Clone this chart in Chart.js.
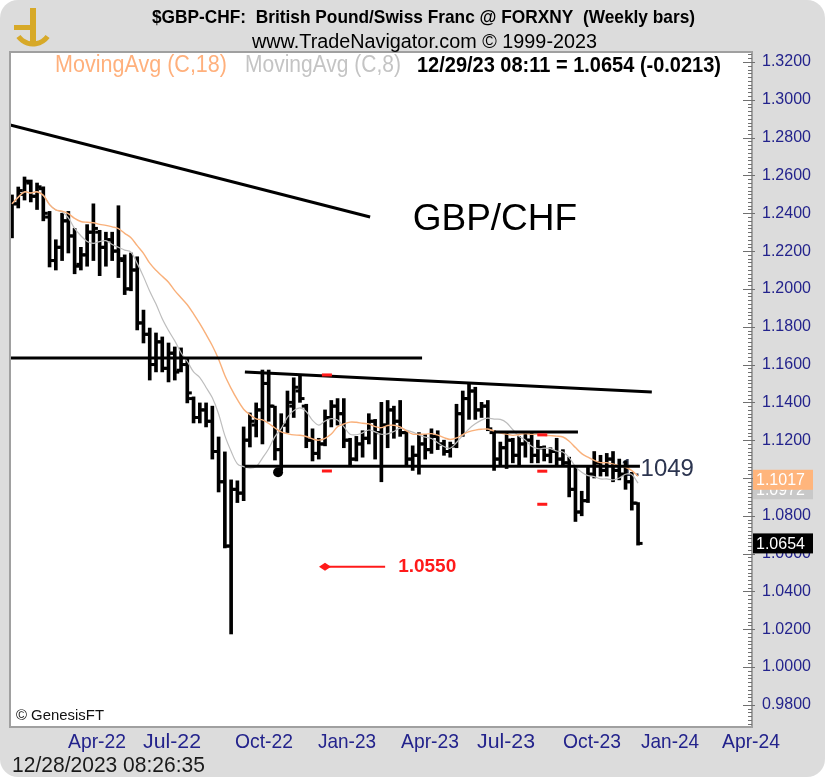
<!DOCTYPE html>
<html>
<head>
<meta charset="utf-8">
<script src="https://cdn.jsdelivr.net/npm/chart.js@4.4.1/dist/chart.umd.min.js"></script>
<style>
    html, body { margin: 0; padding: 0; background: #fff; }
    #wrap { width: 828px; height: 779px; position: relative; }
</style>
</head>
<body>
<div id="wrap"><canvas id="gbpChfChart"></canvas></div>
<script>
// weekly bars, one per week (index 0 = late Jan 2022, last = week of 12/29/23)
const opens = [
    1.235, 1.245, 1.250, 1.256, 1.249, 1.253, 1.238, 1.215, 1.222, 1.236,
    1.228, 1.213, 1.218, 1.230, 1.230, 1.222, 1.226, 1.220, 1.215, 1.200,
    1.210, 1.182, 1.176, 1.160, 1.172, 1.158, 1.166, 1.157, 1.160, 1.142,
    1.132, 1.136, 1.130, 1.114, 1.098, 1.064, 1.094, 1.092, 1.120, 1.128,
    1.136, 1.150, 1.138, 1.115, 1.128, 1.138, 1.146, 1.138, 1.120, 1.113,
    1.118, 1.132, 1.138, 1.134, 1.120, 1.110, 1.118, 1.121, 1.130, 1.124,
    1.128, 1.136, 1.130, 1.124, 1.110, 1.112, 1.118, 1.115, 1.122, 1.118,
    1.114, 1.117, 1.134, 1.142, 1.146, 1.136, 1.138, 1.124, 1.110, 1.116,
    1.120, 1.112, 1.118, 1.120, 1.112, 1.116, 1.112, 1.114, 1.110, 1.108,
    1.094, 1.082, 1.088, 1.102, 1.108, 1.104, 1.110, 1.104, 1.102, 1.098,
    1.0867
];
const highs = [
    1.2497, 1.2539, 1.2592, 1.2576, 1.2560, 1.2540, 1.2410, 1.2260, 1.2400, 1.2410,
    1.2320, 1.2220, 1.2340, 1.2450, 1.2310, 1.2300, 1.2300, 1.2440, 1.2180, 1.2190,
    1.2170, 1.1888, 1.1793, 1.1767, 1.1746, 1.1714, 1.1693, 1.1688, 1.1630, 1.1429,
    1.1397, 1.1397, 1.1380, 1.1217, 1.1138, 1.0990, 1.0985, 1.1270, 1.1344, 1.1397,
    1.1571, 1.1571, 1.1380, 1.1340, 1.1460, 1.1530, 1.1540, 1.1390, 1.1260, 1.1210,
    1.1360, 1.1410, 1.1420, 1.1420, 1.1210, 1.1220, 1.1250, 1.1340, 1.1310, 1.1400,
    1.1410, 1.1380, 1.1410, 1.1250, 1.1170, 1.1240, 1.1230, 1.1260, 1.1250, 1.1200,
    1.1190, 1.1390, 1.1460, 1.1500, 1.1480, 1.1400, 1.1410, 1.1250, 1.1190, 1.1240,
    1.1210, 1.1220, 1.1240, 1.1240, 1.1200, 1.1170, 1.1160, 1.1210, 1.1150, 1.1110,
    1.1060, 1.0930, 1.1060, 1.1140, 1.1120, 1.1130, 1.1140, 1.1100, 1.1090, 1.1030,
    1.0870
];
const lows = [
    1.2270, 1.2428, 1.2470, 1.2460, 1.2420, 1.2360, 1.2116, 1.2100, 1.2150, 1.2190,
    1.2080, 1.2100, 1.2120, 1.2150, 1.2070, 1.2120, 1.2150, 1.2060, 1.1970, 1.1990,
    1.1783, 1.1714, 1.1518, 1.1561, 1.1561, 1.1508, 1.1518, 1.1561, 1.1397, 1.1291,
    1.1291, 1.1270, 1.1100, 1.0926, 1.0630, 1.0175, 1.0870, 1.0880, 1.1164, 1.1217,
    1.1180, 1.1300, 1.1095, 1.1040, 1.1240, 1.1320, 1.1400, 1.1160, 1.1090, 1.1100,
    1.1170, 1.1270, 1.1280, 1.1160, 1.1060, 1.1090, 1.1110, 1.1180, 1.1100, 1.0980,
    1.1160, 1.1210, 1.1220, 1.1070, 1.1040, 1.1020, 1.1100, 1.1130, 1.1150, 1.1120,
    1.1110, 1.1160, 1.1220, 1.1310, 1.1310, 1.1320, 1.1250, 1.1040, 1.1070, 1.1050,
    1.1080, 1.1070, 1.1110, 1.1080, 1.1080, 1.1090, 1.1080, 1.1070, 1.1060, 1.0900,
    1.0770, 1.0800, 1.0870, 1.1000, 1.1010, 1.1010, 1.0980, 1.0990, 1.0940, 1.0830,
    1.0645
];
const closes = [
    1.245, 1.252, 1.257, 1.249, 1.254, 1.240, 1.215, 1.222, 1.236, 1.228,
    1.212, 1.218, 1.230, 1.232, 1.222, 1.226, 1.220, 1.216, 1.200, 1.210,
    1.182, 1.176, 1.160, 1.172, 1.158, 1.166, 1.156, 1.160, 1.145, 1.132,
    1.136, 1.130, 1.114, 1.098, 1.064, 1.094, 1.092, 1.120, 1.130, 1.136,
    1.150, 1.138, 1.115, 1.128, 1.140, 1.148, 1.142, 1.120, 1.113, 1.118,
    1.132, 1.138, 1.134, 1.120, 1.110, 1.118, 1.121, 1.130, 1.124, 1.128,
    1.136, 1.130, 1.124, 1.110, 1.112, 1.118, 1.115, 1.122, 1.118, 1.114,
    1.117, 1.134, 1.142, 1.146, 1.136, 1.138, 1.126, 1.110, 1.116, 1.120,
    1.112, 1.118, 1.120, 1.112, 1.116, 1.112, 1.114, 1.110, 1.108, 1.094,
    1.082, 1.088, 1.102, 1.108, 1.104, 1.110, 1.104, 1.102, 1.098, 1.0867,
    1.0654
];

const xTickLabels = ['Apr-22', 'Jul-22', 'Oct-22', 'Jan-23', 'Apr-23', 'Jul-23', 'Oct-23', 'Jan-24', 'Apr-24'];
const xTickWeeks = [13.58, 25.56, 40.25, 53.51, 66.77, 78.91, 92.65, 105.11, 118.04];
const yTickValues = [1.32, 1.30, 1.28, 1.26, 1.24, 1.22, 1.20, 1.18, 1.16, 1.14, 1.12, 1.10, 1.08, 1.06, 1.04, 1.02, 1.00, 0.98];

const lastQuote = { stamp: '12/29/23 08:11', close: 1.0654, change: -0.0213 };
const maReadout = { slow: 1.1017, fast: 1.0972 };

// hand-drawn studies, in (week index, price)
const trendLines = [
    { x1: -0.3, y1: 1.2867, x2: 57.2, y2: 1.2380 },
    { x1: -0.3, y1: 1.1635, x2: 65.5, y2: 1.1635 },
    { x1: 37.2, y1: 1.1561, x2: 102.2, y2: 1.1455 },
    { x1: 37.2, y1: 1.1062, x2: 100.3, y2: 1.1062 },
    { x1: 77.0, y1: 1.1243, x2: 90.4, y2: 1.1243 }
];
const redMarks = [
    { x: 50.3, y: 1.1545 }, { x: 50.3, y: 1.1037 },
    { x: 84.7, y: 1.1228 }, { x: 84.7, y: 1.1036 }, { x: 84.7, y: 1.0861 }
];
const pivotDot = { x: 42.5, y: 1.1030 };
const targetArrow = { x1: 50.0, x2: 59.6, y: 1.0530, label: '1.0550' };
const supportLabel = { x: 97.2, y: 1.1045, text: '1.1049' };
const pairLabel = { x: 64.0, y: 1.2364, text: 'GBP/CHF' };

const SANS = "'Liberation Sans', Arial, sans-serif";
const NAVY = '#23238c';

function movingAvg(src, n) {
    return src.map((_, i) => {
        const win = src.slice(Math.max(0, i - n + 1), i + 1);
        return win.reduce((a, b) => a + b, 0) / win.length;
    });
}
const ma18 = movingAvg(closes, 18);
const ma8 = movingAvg(closes, 8);

// condensed text: font size sets the height, horizontal squeeze sets the width
function narrowText(ctx, text, left, width, y, size, weight, color) {
    ctx.save();
    ctx.font = `${weight} ${size}px ${SANS}`;
    const w = ctx.measureText(text).width;
    ctx.fillStyle = color;
    ctx.textAlign = 'left';
    ctx.textBaseline = 'middle';
    ctx.translate(left, y);
    ctx.scale(width / w, 1);
    ctx.fillText(text, 0, 0);
    ctx.restore();
}

const tradeNavFrame = {
    id: 'tradeNavFrame',
    beforeDraw(chart) {
        const { ctx, width, height, chartArea: a } = chart;
        ctx.save();
        ctx.fillStyle = '#fff';
        ctx.fillRect(0, 0, width, height);
        ctx.fillStyle = '#dcdcdc';
        ctx.beginPath();
        ctx.roundRect(0, 0, width - 3, height - 2, 18);
        ctx.fill();
        ctx.fillStyle = '#fff';
        ctx.fillRect(a.left, a.top, a.right - a.left, a.bottom - a.top);
        ctx.restore();
    },
    beforeDatasetsDraw(chart) {
        const { ctx, scales: { x, y } } = chart;
        ctx.save();
        ctx.font = `24px ${SANS}`;
        ctx.fillStyle = '#2c3550';
        ctx.textBaseline = 'middle';
        ctx.fillText(supportLabel.text, x.getPixelForValue(supportLabel.x), y.getPixelForValue(supportLabel.y));
        ctx.font = `37px ${SANS}`;
        ctx.fillStyle = '#000';
        ctx.fillText(pairLabel.text, x.getPixelForValue(pairLabel.x), y.getPixelForValue(pairLabel.y));
        ctx.restore();
    },
    afterDatasetsDraw(chart) {
        const { ctx, chartArea: a, scales: { x, y } } = chart;
        ctx.save();
        ctx.beginPath();
        ctx.rect(a.left, a.top, a.right - a.left, a.bottom - a.top);
        ctx.clip();

        ctx.strokeStyle = '#000';
        ctx.lineWidth = 3;
        trendLines.forEach(t => {
            ctx.beginPath();
            ctx.moveTo(x.getPixelForValue(t.x1), y.getPixelForValue(t.y1));
            ctx.lineTo(x.getPixelForValue(t.x2), y.getPixelForValue(t.y2));
            ctx.stroke();
        });

        ctx.fillStyle = '#ff1a1a';
        redMarks.forEach(m => {
            ctx.fillRect(x.getPixelForValue(m.x) - 5, y.getPixelForValue(m.y) - 1.5, 10, 3);
        });

        ctx.fillStyle = '#000';
        ctx.beginPath();
        ctx.arc(x.getPixelForValue(pivotDot.x), y.getPixelForValue(pivotDot.y), 5, 0, Math.PI * 2);
        ctx.fill();

        // target arrow
        const ay = y.getPixelForValue(targetArrow.y);
        const ax1 = x.getPixelForValue(targetArrow.x1);
        const ax2 = x.getPixelForValue(targetArrow.x2);
        ctx.strokeStyle = '#ff1a1a';
        ctx.fillStyle = '#ff1a1a';
        ctx.lineWidth = 2;
        ctx.beginPath();
        ctx.moveTo(ax1, ay);
        ctx.lineTo(ax2, ay);
        ctx.stroke();
        ctx.beginPath();
        ctx.moveTo(ax1 - 6, ay);
        ctx.lineTo(ax1, ay - 4);
        ctx.lineTo(ax1 + 6, ay);
        ctx.lineTo(ax1, ay + 4);
        ctx.closePath();
        ctx.fill();
        ctx.font = `bold 19px ${SANS}`;
        ctx.textBaseline = 'middle';
        ctx.fillText(targetArrow.label, ax2 + 13, ay);
        ctx.restore();
    },
    afterDraw(chart) {
        const { ctx, chartArea: a, scales: { x, y } } = chart;
        ctx.save();

        // plot frame and price ticks on the right edge
        ctx.strokeStyle = '#a0a0a0';
        ctx.lineWidth = 2;
        ctx.strokeRect(a.left, a.top, a.right - a.left, a.bottom - a.top);
        ctx.strokeStyle = '#707070';
        ctx.lineWidth = 1;
        for (let v = 0.97; v <= 1.3251; v += 0.002) {
            const py = Math.round(y.getPixelForValue(v)) + 0.5;
            if (py < a.top + 2 || py > a.bottom - 2) continue;
            const major = Math.abs(v * 50 - Math.round(v * 50)) < 1e-6;
            ctx.beginPath();
            ctx.moveTo(a.right - (major ? 9 : 4), py);
            ctx.lineTo(a.right + (major ? 3 : 0), py);
            ctx.stroke();
        }

        // date labels under the plot, placed by the x scale
        x.ticks.forEach((t, i) => {
            const px = x.getPixelForValue(t.value);
            narrowText(ctx, xTickLabels[i], px - 29, 58, 742, 21, 'normal', NAVY);
        });

        // logo
        ctx.fillStyle = '#d7a928';
        ctx.strokeStyle = '#d7a928';
        ctx.fillRect(30, 8, 6, 34);
        ctx.fillRect(14, 25, 16, 5);
        ctx.lineWidth = 5;
        ctx.beginPath();
        ctx.arc(33, 26, 18, 0.2 * Math.PI, 0.8 * Math.PI);
        ctx.stroke();

        // header
        narrowText(ctx, '$GBP-CHF:  British Pound/Swiss Franc @ FORXNY  (Weekly bars)', 152, 543, 18, 19, 'bold', '#000');
        narrowText(ctx, 'www.TradeNavigator.com \u00a9 1999-2023', 252, 345, 42, 20, 'normal', '#000');

        // study legend
        narrowText(ctx, 'MovingAvg (C,18)', 55, 172, 66, 23, 'normal', '#ffb07c');
        narrowText(ctx, 'MovingAvg (C,8)', 245, 156, 66, 23, 'normal', '#c4c4c4');
        const chg = lastQuote.change.toFixed(4);
        narrowText(ctx, `${lastQuote.stamp} = ${lastQuote.close.toFixed(4)} (${chg})`, 417, 304, 66, 22, 'bold', '#000');

        // value boxes on the price axis
        const box = (val, dy, fill, color) => {
            const cy = y.getPixelForValue(val) + dy;
            ctx.fillStyle = fill;
            ctx.fillRect(a.right + 1, cy - 10, 60, 20);
            ctx.font = `16px ${SANS}`;
            ctx.fillStyle = color;
            ctx.textAlign = 'left';
            ctx.textBaseline = 'middle';
            ctx.fillText(val.toFixed(4), a.right + 4, cy + 1);
        };
        box(maReadout.fast, 6, '#c8c8c8', '#fff');
        box(maReadout.slow, 5, '#ffb57c', '#fff');
        box(lastQuote.close, 0, '#000', '#fff');

        // footer
        narrowText(ctx, '\u00a9 GenesisFT', 16, 88, 716, 15, 'normal', '#111');
        narrowText(ctx, '12/28/2023 08:26:35', 12, 193, 766, 22, 'normal', '#1a1a1a');
        ctx.restore();
    }
};

const ctx = document.getElementById('gbpChfChart').getContext('2d');
const gbpChfChart = new Chart(ctx, {
    type: 'bar',
    data: {
        datasets: [
            {
                label: 'MovingAvg (C,18)',
                type: 'line',
                data: ma18.map((v, i) => ({ x: i, y: v })),
                borderColor: '#f9b07a',
                borderWidth: 1.4,
                pointRadius: 0,
                tension: 0.35,
                order: 1
            },
            {
                label: 'MovingAvg (C,8)',
                type: 'line',
                data: ma8.map((v, i) => ({ x: i, y: v })),
                borderColor: '#bdbdbd',
                borderWidth: 1.2,
                pointRadius: 0,
                tension: 0.35,
                order: 2
            },
            {
                label: 'High-Low',
                data: highs.map((h, i) => ({ x: i, y: [lows[i], h] })),
                backgroundColor: '#000',
                barThickness: 3,
                grouped: false,
                order: 3
            },
            {
                label: 'Open',
                type: 'line',
                data: opens.map((o, i) => ({ x: i - 0.4, y: o })),
                showLine: false,
                pointStyle: 'line',
                pointRadius: 2,
                pointBorderWidth: 3,
                pointBorderColor: '#000',
                order: 3
            },
            {
                label: 'Close',
                type: 'line',
                data: closes.map((c, i) => ({ x: i + 0.4, y: c })),
                showLine: false,
                pointStyle: 'line',
                pointRadius: 2,
                pointBorderWidth: 3,
                pointBorderColor: '#000',
                order: 3
            }
        ]
    },
    options: {
        responsive: true,
        maintainAspectRatio: false,
        animation: false,
        devicePixelRatio: 1,
        layout: {
            padding: { left: 10, top: 52, right: 0, bottom: 22 }
        },
        scales: {
            x: {
                type: 'linear',
                min: -0.32,
                max: 118.2,
                offset: false,
                grid: { display: false, drawTicks: false },
                border: { display: false },
                afterBuildTicks: scale => {
                    scale.ticks = xTickWeeks.map(v => ({ value: v }));
                },
                afterFit: scale => {
                    scale.height = 30;
                },
                ticks: {
                    display: false,
                    autoSkip: false,
                    maxRotation: 0
                }
            },
            y: {
                position: 'right',
                min: 0.9683,
                max: 1.3253,
                grid: { display: false, drawTicks: false },
                border: { display: false },
                afterBuildTicks: scale => {
                    scale.ticks = yTickValues.map(v => ({ value: v }));
                },
                afterFit: scale => {
                    scale.width = 76;
                },
                ticks: {
                    padding: 10,
                    color: NAVY,
                    font: { family: SANS, size: 16 },
                    callback: function(value) {
                        return value.toFixed(4);
                    }
                }
            }
        },
        plugins: {
            legend: { display: false },
            tooltip: { enabled: false }
        }
    },
    plugins: [tradeNavFrame]
});
</script>
</body>
</html>
